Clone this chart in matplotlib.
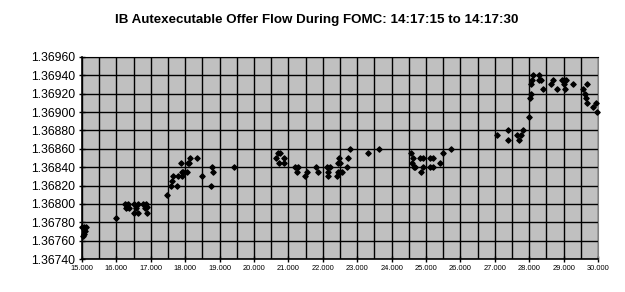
import numpy as np
import matplotlib
matplotlib.use("Agg")
import matplotlib.pyplot as plt
from matplotlib.ticker import MultipleLocator, FormatStrFormatter

plt.rcParams['font.family'] = ['Liberation Sans', 'DejaVu Sans']

# seconds after 14:17:00 and offer price
t = [15.00, 15.06, 15.13, 15.10, 15.05, 15.02,
     15.98,
     16.25, 16.33, 16.27, 16.38, 16.30,
     16.52, 16.62, 16.58, 16.52, 16.63,
     16.78, 16.86, 16.90, 16.84, 16.88,
     17.48,
     17.61, 17.60, 17.76,
     17.65, 17.80, 17.90, 17.90, 17.95, 18.06,
     17.88, 18.07, 18.14, 18.12, 18.35,
     18.50,
     18.79, 18.82, 18.76,
     19.41,
     20.69, 20.76, 20.64, 20.74, 20.88, 20.88,
     21.19, 21.29, 21.24,
     21.48, 21.55,
     21.80, 21.85,
     22.11, 22.21, 22.16, 22.14,
     22.40, 22.45, 22.50, 22.55,
     22.45, 22.50, 22.48,
     22.69, 22.74, 22.79,
     23.30, 23.64,
     24.56, 24.61, 24.58, 24.65,
     24.83, 24.92, 25.12, 25.19,
     24.68, 24.85, 24.90, 25.12, 25.21,
     25.41, 25.49, 25.73,
     27.06, 27.37, 27.38, 27.64, 27.70, 27.76, 27.82,
     28.00,
     28.02, 28.04, 28.04, 28.09, 28.12, 28.28, 28.29, 28.33, 28.41,
     28.63, 28.70, 28.80, 28.94, 29.01, 29.07, 29.01, 29.04, 29.28,
     29.55, 29.67, 29.62, 29.64, 29.69, 29.86, 29.94, 29.96]

price = [1.36775, 1.36775, 1.36775, 1.36770, 1.36767, 1.36765,
         1.36785,
         1.36800, 1.36800, 1.36795, 1.36795, 1.36797,
         1.36800, 1.36800, 1.36795, 1.36790, 1.36790,
         1.36800, 1.36800, 1.36797, 1.36795, 1.36790,
         1.36810,
         1.36825, 1.36820, 1.36820,
         1.36830, 1.36830, 1.36830, 1.36835, 1.36835, 1.36835,
         1.36845, 1.36845, 1.36850, 1.36845, 1.36850,
         1.36830,
         1.36840, 1.36835, 1.36820,
         1.36840,
         1.36855, 1.36855, 1.36850, 1.36845, 1.36850, 1.36845,
         1.36840, 1.36840, 1.36835,
         1.36830, 1.36835,
         1.36840, 1.36835,
         1.36840, 1.36840, 1.36835, 1.36830,
         1.36830, 1.36835, 1.36835, 1.36835,
         1.36845, 1.36845, 1.36850,
         1.36840, 1.36850, 1.36860,
         1.36855, 1.36860,
         1.36855, 1.36850, 1.36845, 1.36840,
         1.36850, 1.36850, 1.36850, 1.36850,
         1.36840, 1.36835, 1.36840, 1.36840, 1.36840,
         1.36845, 1.36855, 1.36860,
         1.36875, 1.36880, 1.36870, 1.36875, 1.36870, 1.36875, 1.36880,
         1.36895,
         1.36915, 1.36920, 1.36930, 1.36935, 1.36940, 1.36940, 1.36935, 1.36935, 1.36925,
         1.36930, 1.36935, 1.36925, 1.36935, 1.36935, 1.36935, 1.36930, 1.36925, 1.36930,
         1.36925, 1.36930, 1.36920, 1.36915, 1.36910, 1.36905, 1.36910, 1.36900]

fig = plt.figure(figsize=(6.25, 2.92), dpi=100)
ax = fig.add_axes([0.131, 0.113, 0.826, 0.692])
ax.set_facecolor('#c0c0c0')

ax.scatter(t, price, marker='D', s=7, color='black', zorder=3, clip_on=False)

ax.set_xlim(15, 30)
ax.set_ylim(1.3674, 1.3696)
ax.xaxis.set_major_locator(MultipleLocator(1))
ax.xaxis.set_minor_locator(MultipleLocator(0.5))
ax.yaxis.set_major_locator(MultipleLocator(0.0002))
ax.xaxis.set_major_formatter(FormatStrFormatter('%.3f'))
ax.yaxis.set_major_formatter(FormatStrFormatter('%.5f'))

ax.grid(True, which='both', color='black', linewidth=1.0, zorder=1)
ax.set_axisbelow(True)

for s in ['left', 'bottom']:
    ax.spines[s].set_color('black')
    ax.spines[s].set_linewidth(1.2)
ax.spines['top'].set_color('black')
ax.spines['right'].set_color('#808080')

ax.tick_params(axis='x', which='major', labelsize=5.4, length=4, width=1, direction='inout', pad=2)
ax.tick_params(axis='x', which='minor', length=0)
ax.tick_params(axis='y', labelsize=8.8, length=4, width=1, direction='inout', pad=3)

fig.text(0.506, 0.93, 'IB Autexecutable Offer Flow During FOMC: 14:17:15 to 14:17:30',
         ha='center', va='center', fontsize=9.6, fontweight='bold')

fig.savefig('out.png', dpi=100, facecolor='white')
